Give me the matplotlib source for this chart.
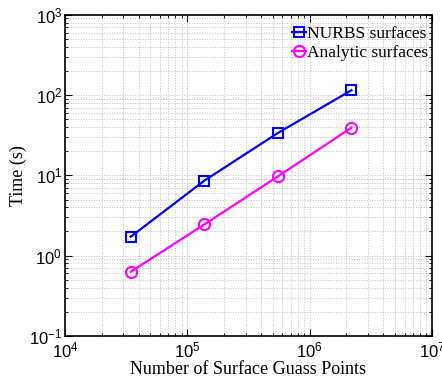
import matplotlib

matplotlib.use("Agg")

import matplotlib.pyplot as plt

points = [3.45e4, 1.38e5, 5.5e5, 2.2e6]
nurbs_time = [1.72, 8.6, 33.7, 115]
analytic_time = [0.63, 2.45, 9.7, 39.3]

plt.rcParams["mathtext.fontset"] = "custom"
plt.rcParams["mathtext.rm"] = "Liberation Sans"
plt.rcParams["mathtext.it"] = "Liberation Sans:italic"
plt.rcParams["font.family"] = "Liberation Sans"

fig = plt.figure(figsize=(4.42, 3.8), dpi=100)
ax = fig.add_axes([0.147, 0.116, 0.83, 0.845])

ax.loglog(points, nurbs_time, "-s", color="#0000ff", lw=1.6, ms=7,
          mfc="none", mew=1.5, label="NURBS surfaces")
ax.loglog(points, analytic_time, "-o", color="#ff00ff", lw=1.6, ms=8,
          mfc="none", mew=1.5, label="Analytic surfaces")

ax.set_xlim(1e4, 1e7)
ax.set_ylim(1e-1, 1e3)
ax.grid(True, which="both", linestyle=":", color="#c0c0c0", linewidth=0.7)
ax.tick_params(which="both", direction="in", top=True, right=True,
               labelsize=12)
ax.tick_params(axis="y", pad=2)
ax.tick_params(which="major", length=5)
ax.tick_params(which="minor", length=2.5)
for s in ax.spines.values():
    s.set_linewidth(1.2)

ax.set_xlabel("Number of Surface Guass Points", family="Liberation Serif",
              fontsize=13, labelpad=0)
ax.set_ylabel("Time (s)", family="Liberation Serif", fontsize=13,
              labelpad=1)

ax.legend(loc="upper right", bbox_to_anchor=(1.0, 0.975), frameon=False,
          prop={"family": "Liberation Serif", "size": 12.5},
          handlelength=0.8, handletextpad=0.1, borderaxespad=0.0,
          labelspacing=0.15, borderpad=0.2)

plt.savefig("out.png", dpi=100)
